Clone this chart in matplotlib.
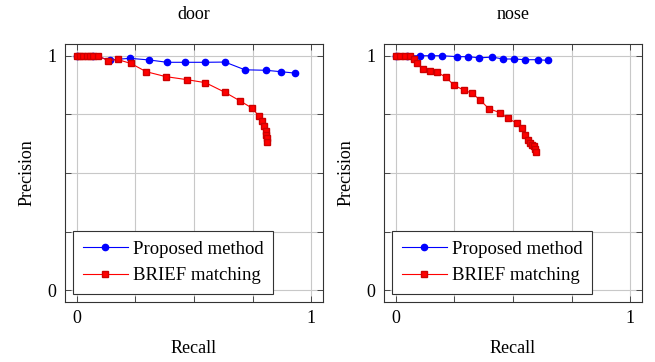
import numpy as np
import matplotlib.pyplot as plt

plt.rcParams['font.family'] = ['Liberation Serif', 'DejaVu Serif']
plt.rcParams['mathtext.fontset'] = 'stix'

titles = ['door', 'nose']

# door
door_prop_r = [0.0, 0.07, 0.141, 0.226, 0.308, 0.386, 0.463, 0.547, 0.632, 0.717, 0.806, 0.870, 0.929]
door_prop_p = [1.0, 1.0, 0.982, 0.989, 0.982, 0.972, 0.972, 0.972, 0.973, 0.940, 0.938, 0.932, 0.926]
door_brief_r = [0.0, 0.014, 0.028, 0.042, 0.057, 0.071, 0.092, 0.132, 0.174, 0.231, 0.296, 0.379,
                0.470, 0.549, 0.632, 0.697, 0.747, 0.775, 0.792, 0.799, 0.806, 0.809, 0.810, 0.810]
door_brief_p = [1.0, 1.0, 1.0, 1.0, 1.0, 1.0, 1.0, 0.979, 0.984, 0.967, 0.932, 0.911,
                0.898, 0.885, 0.844, 0.807, 0.777, 0.745, 0.723, 0.699, 0.678, 0.662, 0.648, 0.631]

# nose
nose_prop_r = [0.0, 0.05, 0.102, 0.151, 0.198, 0.263, 0.310, 0.355, 0.412, 0.458, 0.505, 0.552, 0.605, 0.651]
nose_prop_p = [1.0, 1.0, 1.0, 1.0, 1.0, 0.996, 0.996, 0.991, 0.994, 0.986, 0.986, 0.983, 0.983, 0.980]
nose_brief_r = [0.0, 0.017, 0.038, 0.059, 0.078, 0.091, 0.117, 0.147, 0.178, 0.214, 0.249, 0.289, 0.325,
                0.358, 0.397, 0.446, 0.477, 0.518, 0.540, 0.552, 0.562, 0.571, 0.583, 0.590, 0.594, 0.596]
nose_brief_p = [1.0, 1.0, 1.0, 1.0, 0.986, 0.970, 0.942, 0.936, 0.929, 0.908, 0.874, 0.854, 0.840,
                0.813, 0.774, 0.757, 0.733, 0.712, 0.691, 0.661, 0.641, 0.627, 0.620, 0.613, 0.601, 0.590]

data = [(door_prop_r, door_prop_p, door_brief_r, door_brief_p),
        (nose_prop_r, nose_prop_p, nose_brief_r, nose_brief_p)]

fig = plt.figure(figsize=(6.55, 3.62), dpi=100)
lefts = [65 / 655, 384 / 655]
for k in range(2):
    ax = fig.add_axes([lefts[k], 1 - 302 / 362, 258 / 655, 258 / 362])
    pr, pp, br, bp = data[k]
    ax.plot(pr, pp, '-o', color='blue', ms=4.5, lw=0.8, label='Proposed method', zorder=3)
    ax.plot(br, bp, '-s', color='red', mec='#cc0000', ms=4.5, lw=0.8, label='BRIEF matching', zorder=4)
    ax.set_xlim(-0.05, 1.05)
    ax.set_ylim(-0.05, 1.05)
    ticks = [0, 0.25, 0.5, 0.75, 1]
    ax.set_xticks(ticks)
    ax.set_yticks(ticks)
    ax.set_xticklabels(['0', '', '', '', '1'])
    ax.set_yticklabels(['0', '', '', '', '1'])
    ax.tick_params(direction='in', top=True, right=True, length=4, width=0.6, labelsize=13,
                   color='#333333', pad=6)
    ax.grid(True, color='#c8c8c8', lw=0.8)
    ax.set_axisbelow(True)
    for s in ax.spines.values():
        s.set_linewidth(0.8)
        s.set_color('#333333')
    ax.set_title(titles[k], fontsize=13, pad=18)
    ax.set_xlabel('Recall', fontsize=13, labelpad=9)
    ax.set_ylabel('Precision', fontsize=13, labelpad=9)
    leg = ax.legend(loc='lower left', fontsize=13.5, fancybox=False, framealpha=1,
                    edgecolor='#333333', borderaxespad=0.45, handlelength=2.4,
                    handletextpad=0.3, borderpad=0.5, labelspacing=0.5)
    leg.get_frame().set_linewidth(0.8)

fig.savefig('out.png', dpi=100)
